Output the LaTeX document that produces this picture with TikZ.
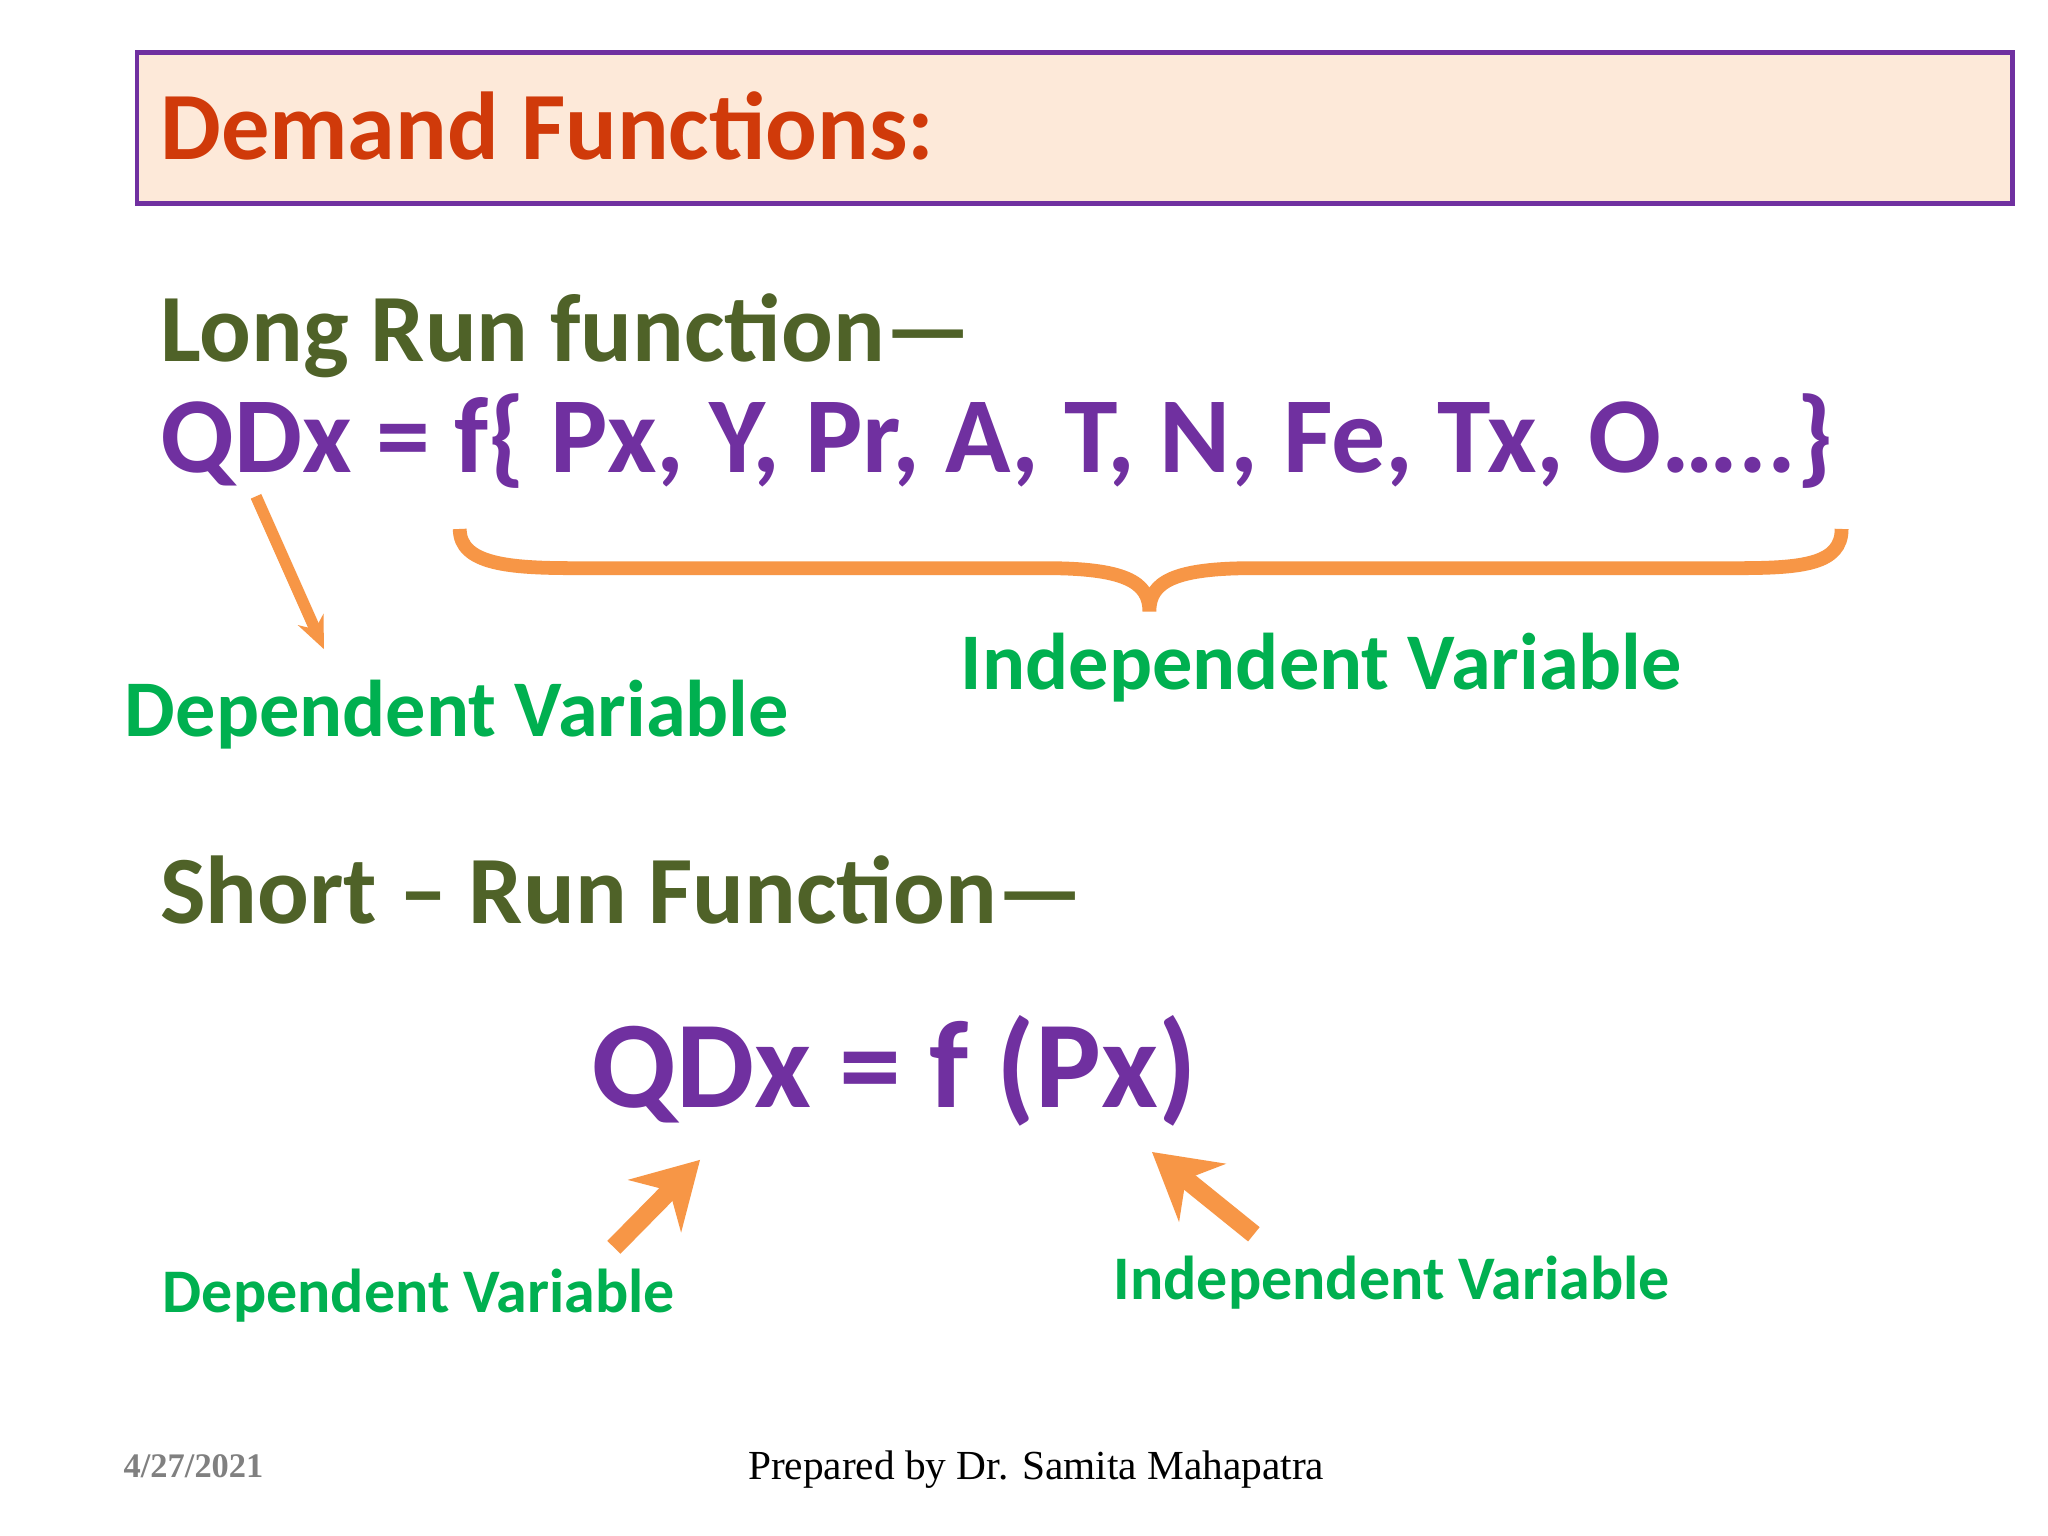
\documentclass[tikz,border=0pt]{standalone}
\usepackage{fontspec}
\setmainfont{Carlito}
\newfontfamily\footfont{Liberation Serif}
\usetikzlibrary{arrows.meta}
\definecolor{ttl}{HTML}{D03A0A}
\definecolor{olive}{HTML}{4F6228}
\definecolor{purp}{HTML}{7030A0}
\definecolor{grn}{HTML}{00B050}
\definecolor{orng}{HTML}{F79646}
\definecolor{hdr}{HTML}{FDE9D9}
\tikzset{
  t/.style={anchor=base west,inner sep=0pt,font=\bfseries},
  arr/.style={orng,line width=4pt,-{Stealth[length=14pt,width=16pt]}},
  thin/.style={orng,line width=2.5pt,-{Stealth[length=7pt,width=6pt]}}
}
\begin{document}
\begin{tikzpicture}[x=0.01cm,y=-0.01cm]
\useasboundingbox (0,0) rectangle (1568,1176);
\fill[white] (0,0) rectangle (1568,1176);
\draw[purp,fill=hdr,line width=1pt] (105,40) rectangle (1541,156);
\node[t,text=ttl,font=\bfseries\fontsize{21}{25}\selectfont] (title) at (122,122) {Demand Functions:};
\node[t,text=olive,font=\bfseries\fontsize{21}{25}\selectfont] (lr) at (122,277) {Long Run function—};
\node[t,text=purp,font=\bfseries\fontsize{23.5}{28}\selectfont] (lreq) at (122,362) {QDx = f\{ Px, Y, Pr, A, T, N, Fe, Tx, O…..\}};
\draw[orng,line width=3pt] (352,405) .. controls (352,432) and (390,435) .. (440,435) -- (800,435) .. controls (860,435) and (880,445) .. (880,468) .. controls (880,445) and (900,435) .. (960,435) -- (1330,435) .. controls (1380,435) and (1410,432) .. (1410,405);
\node[t,text=grn,font=\bfseries\fontsize{17.5}{21}\selectfont] (iv1) at (735,528) {Independent Variable};
\node[t,text=grn,font=\bfseries\fontsize{17.5}{21}\selectfont] (dv1) at (95,564) {Dependent Variable};
\coordinate (a1) at (196,380);
\coordinate (a2) at (248,497);
\draw[thin] (a1) -- (a2);
\node[t,text=olive,font=\bfseries\fontsize{21}{25}\selectfont] (sr) at (122,707) {Short – Run Function—};
\node[t,text=purp,font=\bfseries\fontsize{27}{32}\selectfont] (sreq) at (452,848) {QDx = f (Px)};
\coordinate (b1) at (470,955);
\coordinate (b2) at (536,888);
\draw[arr] (b1) -- (b2);
\coordinate (c1) at (960,945);
\coordinate (c2) at (882,882);
\draw[arr] (c1) -- (c2);
\node[t,text=grn,font=\bfseries\fontsize{13.5}{16}\selectfont] (dv2) at (124,1005) {Dependent Variable};
\node[t,text=grn,font=\bfseries\fontsize{13.5}{16}\selectfont] (iv2) at (852,995) {Independent Variable};
\node[t,text=gray,font=\footfont\bfseries\fontsize{7.5}{9}\selectfont] (date) at (94,1131) {4/27/2021};
\node[t,text=black,font=\footfont\fontsize{9}{11}\selectfont] (prep) at (572,1133) {Prepared by Dr. Samita Mahapatra};
\end{tikzpicture}
\end{document}
